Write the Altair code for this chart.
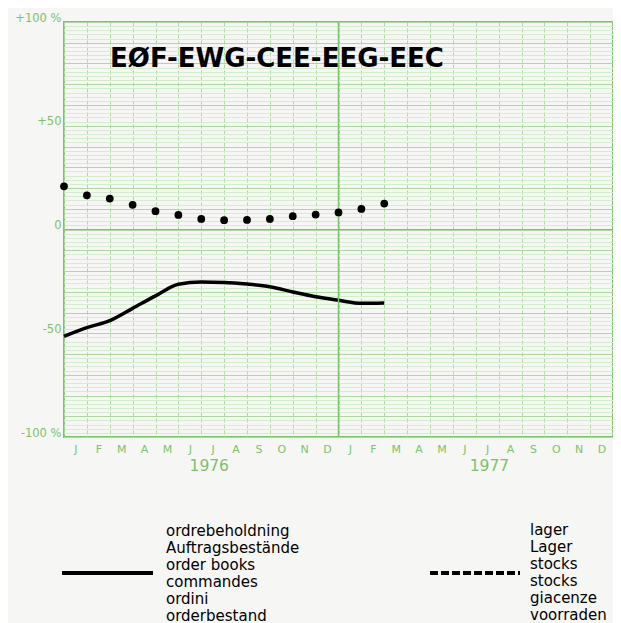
import altair as alt
import pandas as pd

# ---- data ----
months = [0, 1, 2, 3, 4, 5, 6, 7, 8, 9, 10, 11, 12, 13, 14]
order_books = [-51.5, -47.3, -43.9, -38.0, -32.0, -26.4, -25.3, -25.5, -26.3, -27.6, -30.1, -32.4, -34.1, -35.6, -35.4]
stocks = [20.8, 16.5, 14.9, 11.9, 8.8, 7.0, 5.1, 4.5, 4.6, 5.1, 6.4, 7.2, 8.2, 9.9, 12.5]

month_letters = ["J", "F", "M", "A", "M", "J", "J", "A", "S", "O", "N", "D",
                 "J", "F", "M", "A", "M", "J", "J", "A", "S", "O", "N", "D"]
years = ["1976", "1977"]
year_pos = [6.35, 18.6]
year_boundary = [12]
zero_line = [0]

y_tick_values = [100, 50, 0, -50, -100]
y_tick_labels = ["+100 %", "+50", "0", "-50", "-100 %"]

title_text = "EØF-EWG-CEE-EEG-EEC"
legend_left = ["ordrebeholdning", "Auftragsbestände", "order books", "commandes", "ordini", "orderbestand"]
legend_right = ["lager", "Lager", "stocks", "stocks", "giacenze", "voorraden"]

# ---- styling ----
GREEN = "#7cc46b"
LABEL_GREEN = "#7cc26d"
MINOR = "#d6ecd0"
MAJOR = "#acd9a0"
BG = "#f6f6f4"
FONT = "DejaVu Sans"
W, H = 549, 415

df = pd.DataFrame({"m": months, "orders": order_books, "stocks": stocks})

x_label_expr = "[" + ",".join("'%s'" % s for s in month_letters) + ",''][datum.value]"
y_label_expr = " : ".join(
    "datum.value == %d ? '%s'" % (v, l) for v, l in zip(y_tick_values, y_tick_labels)
) + " : ''"

x_scale = alt.Scale(domain=[0, 24], nice=False, zero=False)
y_scale = alt.Scale(domain=[-100, 100], nice=False, zero=False)

x_axis = alt.Axis(
    values=list(range(0, 25)), labelExpr=x_label_expr, labelOffset=W / 48,
    labelFlush=False, labelOverlap=False, ticks=False, domain=False,
    grid=True, gridColor=MAJOR, gridDash=[4, 2], gridWidth=1,
    labelColor=LABEL_GREEN, labelFont=FONT, labelFontSize=11, labelPadding=6,
    title=None,
)
y_axis = alt.Axis(
    values=list(range(-100, 101, 2)), labelExpr=y_label_expr, labelOverlap=False,
    labelFlush=False, ticks=False, domain=False, grid=True,
    gridColor={"condition": {"test": "datum.value % 10 == 0", "value": MAJOR}, "value": MINOR},
    gridWidth=1, labelColor=LABEL_GREEN, labelFont=FONT, labelFontSize=11.5,
    labelPadding=3, labelOffset=-4, title=None,
)

X = lambda f: alt.X(f, scale=x_scale, axis=x_axis)
Y = lambda f: alt.Y(f, scale=y_scale, axis=y_axis)

line = alt.Chart(df).mark_line(color="black", strokeWidth=3.5, interpolate="monotone").encode(
    x=X("m:Q"), y=Y("orders:Q"),
)
dots = alt.Chart(df).mark_circle(color="black", size=60, opacity=1).encode(
    x=X("m:Q"), y=Y("stocks:Q"),
)

year_rule = alt.Chart(pd.DataFrame({"m": year_boundary})).mark_rule(color=GREEN, strokeWidth=1.5).encode(
    x=X("m:Q")
)
zero_rule = alt.Chart(pd.DataFrame({"v": zero_line})).mark_rule(color=GREEN, strokeWidth=1.2).encode(
    y=Y("v:Q")
)

year_text = alt.Chart(pd.DataFrame({"p": year_pos, "t": years})).mark_text(
    color=LABEL_GREEN, font=FONT, fontSize=15.5, baseline="middle", align="center"
).encode(
    x=X("p:Q"),
    y=alt.value(444),
    text="t:N",
)

one = pd.DataFrame({"a": [0]})
title = alt.Chart(one).mark_text(
    text=title_text, font=FONT, fontWeight="bold", fontSize=26, color="black",
    align="center", baseline="middle"
).encode(x=alt.value(213), y=alt.value(37))

leg_solid = alt.Chart(one).mark_rule(color="black", strokeWidth=4).encode(
    x=alt.value(-2), x2=alt.value(89), y=alt.value(551)
)
leg_dash = alt.Chart(one).mark_rule(color="black", strokeWidth=4, strokeDash=[8, 3]).encode(
    x=alt.value(366), x2=alt.value(456), y=alt.value(551)
)
leg_text_l = alt.Chart(one).mark_text(
    text=legend_left, font=FONT, fontSize=15, lineHeight=16.9, color="black",
    align="left", baseline="alphabetic"
).encode(x=alt.value(102), y=alt.value(514))
leg_text_r = alt.Chart(one).mark_text(
    text=legend_right, font=FONT, fontSize=15, lineHeight=16.9, color="black",
    align="left", baseline="alphabetic"
).encode(x=alt.value(466), y=alt.value(513))

chart = alt.layer(
    line, year_rule, zero_rule, dots, year_text, title,
    leg_solid, leg_dash, leg_text_l, leg_text_r
).properties(
    width=W, height=H,
    padding={"left": 56, "top": 14, "right": 0, "bottom": 186},
    autosize="none",
    background=BG,
).configure_view(stroke=GREEN, strokeWidth=2)

chart.save("out.html", embed_options={"renderer": "svg", "actions": False})
